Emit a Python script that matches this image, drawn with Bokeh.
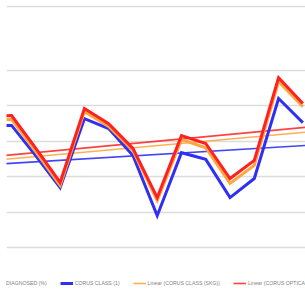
from bokeh.plotting import figure
from bokeh.models import Range1d, FixedTicker, Span, Legend, LegendItem
from bokeh.embed import file_html
from bokeh.resources import INLINE

# ---- data ----
idx = [-1, 0, 1, 2, 3, 4, 5, 6, 7, 8, 9, 10, 11, 12]
blue_vals = [34.3, 34.5, 25.9, 16.9, 36.4, 33.6, 26.0, 9.0, 26.8, 24.9, 14.1, 19.5, 42.1, 35.3]
orange_vals = [36.0, 36.2, 27.0, 17.5, 38.4, 34.2, 27.4, 13.3, 30.5, 28.2, 18.1, 23.2, 46.9, 39.8]
red_vals = [37.1, 37.3, 28.0, 18.4, 39.3, 35.0, 28.0, 14.1, 31.6, 29.4, 19.5, 24.6, 48.0, 40.7]

trend_x = [0, 12]
blue_trend = [23.8, 28.8]
orange_trend = [25.1, 32.5]
red_trend = [26.2, 33.9]

grid_ticks = [0, 10, 20, 30, 40, 50]
top_line = 68.1

labels = ["DIAGNOSED (%)", "CORUS CLASS (1)", "Linear (CORUS CLASS (SKG))", "Linear (CORUS OPTICAL)"]

BLUE = "#3030F5"
ORANGE = "#FFA640"
RED = "#FF2020"

p = figure(width=305, height=301, output_backend="svg", toolbar_location=None,
           x_range=Range1d(-0.21, 12.11), y_range=Range1d(-15.25, 69.8),
           min_border_left=6, min_border_right=0, min_border_top=0, min_border_bottom=0)
p.outline_line_color = None
p.xaxis.visible = False
p.yaxis.visible = False
p.xgrid.visible = False
p.yaxis.ticker = FixedTicker(ticks=grid_ticks)
p.ygrid.ticker = FixedTicker(ticks=grid_ticks)
p.ygrid.grid_line_color = "#DCDCDC"
p.ygrid.grid_line_width = 1.5
p.add_layout(Span(location=top_line, dimension="width", line_color="#DCDCDC", line_width=1.5))

def ext(tx, ty):
    slope = (ty[1] - ty[0]) / (tx[1] - tx[0])
    xs = [-1, 13]
    return xs, [ty[0] + slope * (x - tx[0]) for x in xs]

# invisible first legend series
r0 = p.line(idx, blue_vals, line_alpha=0)
# trendlines
bx, by = ext(trend_x, blue_trend)
ox, oy = ext(trend_x, orange_trend)
rx, ry = ext(trend_x, red_trend)
rbt = p.line(bx, by, line_color=BLUE, line_width=1.6, line_alpha=0.9)
rot = p.line(ox, oy, line_color=ORANGE, line_width=1.6, line_alpha=0.9)
rrt = p.line(rx, ry, line_color=RED, line_width=1.6, line_alpha=0.85)
# main series
rb = p.line(idx, blue_vals, line_color=BLUE, line_width=3, line_join="miter")
ro = p.line(idx, orange_vals, line_color=ORANGE, line_width=3, line_join="miter")
rr = p.line(idx, red_vals, line_color=RED, line_width=3, line_join="miter")

legend = Legend(items=[LegendItem(label=labels[0], renderers=[r0]),
                       LegendItem(label=labels[1], renderers=[rb]),
                       LegendItem(label=labels[2], renderers=[rot]),
                       LegendItem(label=labels[3], renderers=[rrt])],
                orientation="horizontal", location=(-15, 15),
                label_text_font="Liberation Sans", label_text_font_size="5.2px",
                label_text_color="#7F7F7F", glyph_width=13, glyph_height=6,
                label_standoff=2, spacing=13, padding=0, margin=0,
                border_line_alpha=0, background_fill_alpha=0, label_height=6)
p.add_layout(legend, "center")

open("out.html", "w").write(file_html(p, INLINE))
